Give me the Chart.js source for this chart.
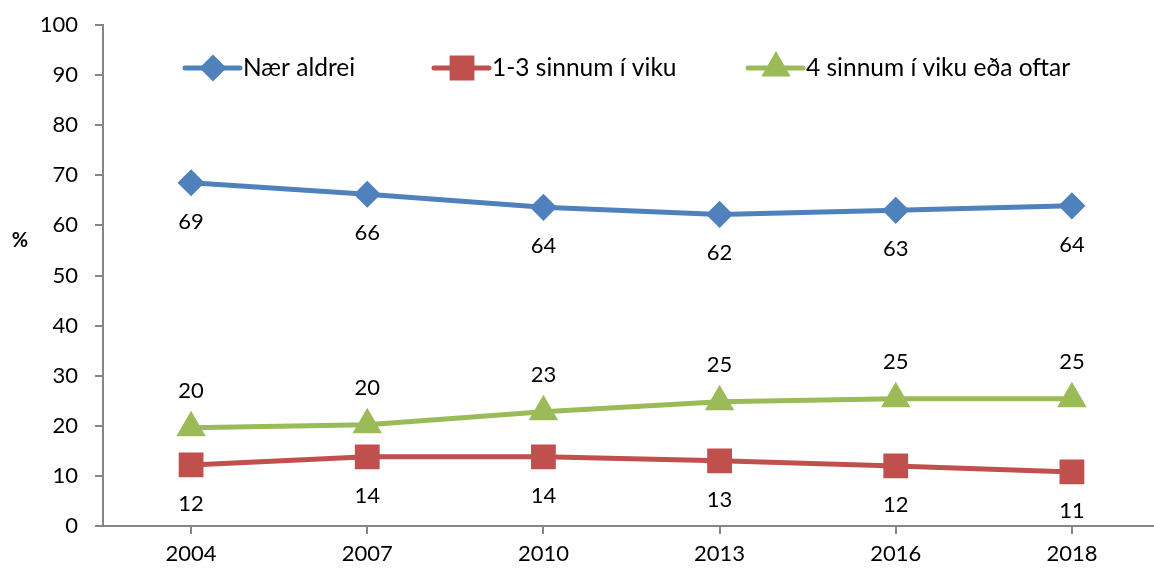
<!DOCTYPE html>
<html>
<head>
<meta charset="utf-8">
<script src="https://cdn.jsdelivr.net/npm/chart.js@4.4.1/dist/chart.umd.min.js"></script>
<style>
  html, body { margin: 0; padding: 0; background: #fff; overflow: hidden; }
  #wrap { width: 1179px; height: 571px; position: relative; }
</style>
</head>
<body>
<div id="wrap"><canvas id="lineChart"></canvas></div>
<script>
const years = ["2004", "2007", "2010", "2013", "2016", "2018"];
const naerAldrei = [68.5, 66.2, 63.6, 62.2, 63.0, 63.9];
const einsTilThrisvar = [12.2, 13.8, 13.8, 13.0, 12.0, 10.8];
const fjorumSinnum = [19.6, 20.2, 22.8, 24.8, 25.4, 25.4];
const seriesNames = ["Nær aldrei", "1-3 sinnum í viku", "4 sinnum í viku eða oftar"];

const FONT = "Lato, 'Open Sans', sans-serif";
const AXIS = "#868686";

// data labels: blue and red below the point, green above
const labelPlugin = {
  id: "valueLabels",
  afterDatasetsDraw(chart) {
    const ctx = chart.ctx;
    ctx.save();
    ctx.font = "22px " + FONT;
    ctx.fillStyle = "#000";
    ctx.textAlign = "center";
    ctx.textBaseline = "middle";
    chart.data.datasets.forEach((ds, i) => {
      const meta = chart.getDatasetMeta(i);
      const off = i === 2 ? -37 : 39;
      meta.data.forEach((pt, j) => {
        ctx.fillText(String(Math.round(ds.data[j])), pt.x, pt.y + off);
      });
    });
    ctx.restore();
  }
};

// legend drawn inside the plot, line + marker like the original
const legendPlugin = {
  id: "innerLegend",
  afterDraw(chart) {
    const ctx = chart.ctx;
    const starts = [185, 434, 748];
    const y = 68;
    ctx.save();
    chart.data.datasets.forEach((ds, i) => {
      const x0 = starts[i];
      ctx.strokeStyle = ds.borderColor;
      ctx.lineWidth = 5;
      ctx.lineCap = "round";
      ctx.beginPath();
      ctx.moveTo(x0, y);
      ctx.lineTo(x0 + 55, y);
      ctx.stroke();
      Chart.helpers.drawPoint(ctx, {
        pointStyle: ds.pointStyle,
        radius: ds.pointRadius,
        rotation: 0,
        borderWidth: 1
      }, x0 + 28, y);
      ctx.fillStyle = ds.borderColor;
      ctx.fill();
      ctx.fillStyle = "#000";
      ctx.font = "24.5px " + FONT;
      ctx.textAlign = "left";
      ctx.textBaseline = "middle";
      ctx.fillText(ds.label, x0 + 58, y);
    });
    // y axis title
    ctx.font = "bold 20px " + FONT;
    ctx.textAlign = "center";
    ctx.fillText("%", 20, 241);
    ctx.restore();
  }
};

function makeSet(label, data, color, style, radius) {
  return {
    label: label,
    data: data,
    borderColor: color,
    backgroundColor: color,
    pointBackgroundColor: color,
    pointBorderColor: color,
    borderWidth: 5,
    pointStyle: style,
    pointRadius: radius,
    pointHoverRadius: radius,
    tension: 0
  };
}

const ctx = document.getElementById("lineChart").getContext("2d");
new Chart(ctx, {
  type: "line",
  data: {
    labels: years,
    datasets: [
      makeSet(seriesNames[0], naerAldrei, "#4F81BD", "rectRot", 10),
      makeSet(seriesNames[1], einsTilThrisvar, "#C0504D", "rect", 14),
      makeSet(seriesNames[2], fjorumSinnum, "#9BBB59", "triangle", 12)
    ]
  },
  options: {
    responsive: true,
    maintainAspectRatio: false,
    animation: false,
    layout: { padding: { top: 25, right: 2, bottom: 0, left: 0 } },
    plugins: {
      legend: { display: false },
      tooltip: { enabled: false }
    },
    scales: {
      x: {
        offset: true,
        afterFit(scale) { scale.height = 45; scale.paddingLeft = 0; scale.paddingRight = 0; },
        grid: { display: true, drawOnChartArea: false, drawTicks: true, tickLength: 8, color: AXIS, lineWidth: 2 },
        border: { display: true, color: AXIS, width: 2 },
        ticks: { color: "#000", font: { family: FONT, size: 22 }, padding: 7, maxRotation: 0 }
      },
      y: {
        min: 0,
        max: 100,
        afterFit(scale) { scale.width = 103; scale.paddingTop = 0; scale.paddingBottom = 0; },
        grid: { display: true, drawOnChartArea: false, drawTicks: true, tickLength: 8, color: AXIS, lineWidth: 2 },
        border: { display: true, color: AXIS, width: 2 },
        ticks: { stepSize: 10, color: "#000", font: { family: FONT, size: 22 }, padding: 17 }
      }
    }
  },
  plugins: [labelPlugin, legendPlugin]
});
</script>
</body>
</html>
